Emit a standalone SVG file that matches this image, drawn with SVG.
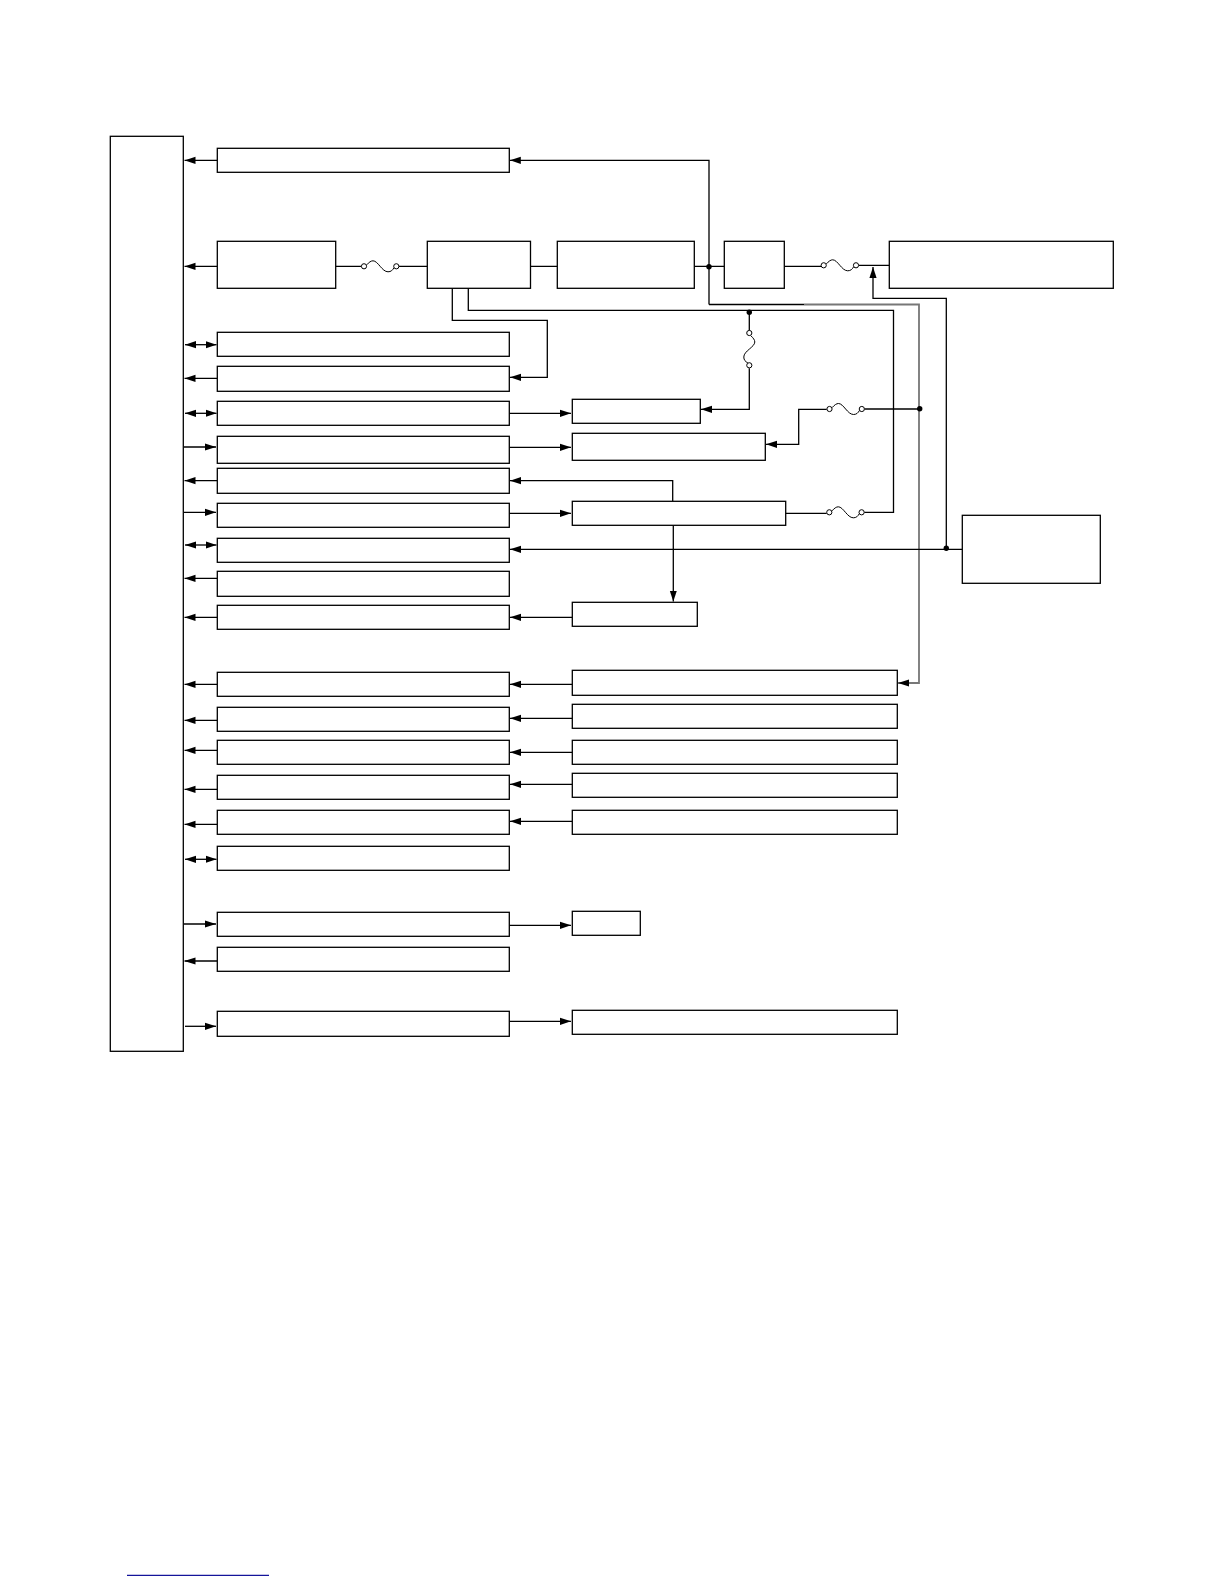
<svg xmlns="http://www.w3.org/2000/svg" width="1224" height="1584" viewBox="0 0 1224 1584">
<style>
rect.n{fill:#fff;stroke:#000;stroke-width:1.3}
.c path{fill:none;stroke:#000;stroke-width:1.3}
.c path.g{stroke:#777;stroke-width:1.8}
.c path.a{marker-end:url(#ah)}
.c path.d{marker-start:url(#ah);marker-end:url(#ah)}
.fw{fill:none;stroke:#000;stroke-width:1}
.fc{fill:#fff;stroke:#000;stroke-width:1}
.dot{fill:#000;stroke:none}
</style>
<defs>
<marker id="ah" markerUnits="userSpaceOnUse" markerWidth="11" markerHeight="8" refX="11" refY="4" orient="auto-start-reverse"><path d="M0,0.4 L11,4 L0,7.6 Z" fill="#000"/></marker>
<g id="fuse"><path class="fw" d="M2.6,-1.4 C5,-4 7,-5.5 9,-5.5 C14,-5.5 18,5.5 24,5.5 C27,5.5 28.5,4 30,1.4"/><circle class="fc" cx="0" cy="0" r="2.6"/><circle class="fc" cx="32.3" cy="0" r="2.6"/></g>
</defs>
<rect width="1224" height="1584" fill="#fff"/>
<g id="connectors" class="c">
<path class="a" d="M217.3,160.3H184.5"/>
<path class="a" d="M217.3,266.3H184.5"/>
<path class="d" d="M185,344.7H216.5"/>
<path class="a" d="M217.3,378.3H184.5"/>
<path class="d" d="M185,413.3H216.5"/>
<path class="a" d="M183.7,447H216"/>
<path class="a" d="M217.3,480.7H184.5"/>
<path class="a" d="M183.7,512.3H216"/>
<path class="d" d="M185,545H216.5"/>
<path class="a" d="M217.3,578.3H184.5"/>
<path class="a" d="M217.3,617.3H184.5"/>
<path class="a" d="M217.3,684.3H184.5"/>
<path class="a" d="M217.3,720.3H184.5"/>
<path class="a" d="M217.3,750.3H184.5"/>
<path class="a" d="M217.3,789.3H184.5"/>
<path class="a" d="M217.3,824.3H184.5"/>
<path class="d" d="M185,859.3H216.5"/>
<path class="a" d="M183.7,924H216"/>
<path class="a" d="M217.3,961H184.5"/>
<path class="a" d="M185,1026.3H216"/>
<path class="a" d="M509.3,413.3H571"/>
<path class="a" d="M509.3,447.3H571"/>
<path class="a" d="M509.3,513.3H571"/>
<path class="a" d="M572.3,617.3H510"/>
<path class="a" d="M572.3,684.3H510"/>
<path class="a" d="M572.3,718.3H510"/>
<path class="a" d="M572.3,752.3H510"/>
<path class="a" d="M572.3,784.3H510"/>
<path class="a" d="M572.3,821.3H510"/>
<path class="a" d="M509.3,925.3H571"/>
<path class="a" d="M509.3,1021.3H571"/>
<path class="a" d="M709,304.5V160.3H509.8"/>
<path d="M709,304.5H804"/>
<path class="g a" d="M804,304.5H919V683H898"/>
<path d="M335.7,266.3H361.4M398.6,266.3H427.3"/>
<path d="M530.5,266.3H557.3M694.3,266.3H724.3M784.3,266.3H821M859,265.3H889.3"/>
<path d="M468.3,288.3V310.3H893.5V512.3H864.3"/>
<path class="a" d="M452.3,288.3V320.3H547.3V377.3H510"/>
<path d="M749.3,310.3V330.4"/>
<path class="a" d="M749.3,368.3V409.3H701"/>
<path d="M919.5,409H864.6"/>
<path class="a" d="M826.7,409.3H798.7V444.3H766"/>
<path d="M785.7,513.3H826.7"/>
<path class="a" d="M672.7,501.3V480.7H510"/>
<path class="a" d="M673.3,525.3V601.5"/>
<path class="a" d="M946.3,548.3V298.3H873V267"/>
<path class="a" d="M962.3,549.3H510"/>
<circle class="dot" cx="709" cy="266.7" r="2.7"/>
<circle class="dot" cx="749.3" cy="312.3" r="2.7"/>
<circle class="dot" cx="919.7" cy="408.7" r="2.7"/>
<circle class="dot" cx="946.3" cy="548.3" r="2.7"/>
</g>
<g id="fuse-1"><use href="#fuse" x="364" y="266.3"/></g>
<g id="fuse-2"><use href="#fuse" x="823.7" y="265.3"/></g>
<g id="fuse-3"><use href="#fuse" transform="translate(749.3,333) rotate(90)"/></g>
<g id="fuse-4"><use href="#fuse" x="829.5" y="409"/></g>
<g id="fuse-5"><use href="#fuse" x="829.3" y="512.3"/></g>
<g id="bus"><rect class="n" x="110.3" y="136.3" width="73" height="915"/></g>
<g id="row-1"><rect class="n" x="217.3" y="148.3" width="292" height="24"/></g>
<g id="power-a"><rect class="n" x="217.3" y="241.3" width="118.4" height="47"/></g>
<g id="power-b"><rect class="n" x="427.3" y="241.3" width="103.2" height="47"/></g>
<g id="power-c"><rect class="n" x="557.3" y="241.3" width="137" height="47"/></g>
<g id="power-d"><rect class="n" x="724.3" y="241.3" width="60" height="47"/></g>
<g id="power-e"><rect class="n" x="889.3" y="241.3" width="224" height="47"/></g>
<g id="source"><rect class="n" x="962.3" y="515.3" width="138" height="68"/></g>
<g id="row-3"><rect class="n" x="217.3" y="332.3" width="292" height="24"/></g>
<g id="row-4"><rect class="n" x="217.3" y="366.3" width="292" height="25"/></g>
<g id="row-5"><rect class="n" x="217.3" y="401.3" width="292" height="24"/></g>
<g id="row-6"><rect class="n" x="217.3" y="436.3" width="292" height="27"/></g>
<g id="row-7"><rect class="n" x="217.3" y="468.3" width="292" height="25"/></g>
<g id="row-8"><rect class="n" x="217.3" y="503.3" width="292" height="24"/></g>
<g id="row-9"><rect class="n" x="217.3" y="538.3" width="292" height="24"/></g>
<g id="row-10"><rect class="n" x="217.3" y="571.3" width="292" height="25"/></g>
<g id="row-11"><rect class="n" x="217.3" y="605.3" width="292" height="24"/></g>
<g id="row-12"><rect class="n" x="217.3" y="672.3" width="292" height="24"/></g>
<g id="row-13"><rect class="n" x="217.3" y="707.3" width="292" height="24"/></g>
<g id="row-14"><rect class="n" x="217.3" y="740.3" width="292" height="24"/></g>
<g id="row-15"><rect class="n" x="217.3" y="775.3" width="292" height="24"/></g>
<g id="row-16"><rect class="n" x="217.3" y="810.3" width="292" height="24"/></g>
<g id="row-17"><rect class="n" x="217.3" y="846.3" width="292" height="24"/></g>
<g id="row-18"><rect class="n" x="217.3" y="912.3" width="292" height="24"/></g>
<g id="row-19"><rect class="n" x="217.3" y="947.3" width="292" height="24"/></g>
<g id="row-20"><rect class="n" x="217.3" y="1011.3" width="292" height="25"/></g>
<g id="right-5"><rect class="n" x="572.3" y="399.3" width="128" height="24"/></g>
<g id="right-6"><rect class="n" x="572.3" y="433.3" width="193" height="27"/></g>
<g id="right-8"><rect class="n" x="572.3" y="501.3" width="213.4" height="24"/></g>
<g id="right-11"><rect class="n" x="572.3" y="602.3" width="125" height="24"/></g>
<g id="right-12"><rect class="n" x="572.3" y="670.3" width="325" height="25"/></g>
<g id="right-13"><rect class="n" x="572.3" y="704.3" width="325" height="24"/></g>
<g id="right-14"><rect class="n" x="572.3" y="740.3" width="325" height="24"/></g>
<g id="right-15"><rect class="n" x="572.3" y="773.3" width="325" height="24"/></g>
<g id="right-16"><rect class="n" x="572.3" y="810.3" width="325" height="24"/></g>
<g id="right-18"><rect class="n" x="572.3" y="911.3" width="68" height="24"/></g>
<g id="right-20"><rect class="n" x="572.3" y="1010.3" width="325" height="24"/></g>
<path d="M127,1575.3H269" stroke="#14149a" stroke-width="1.2" fill="none"/>
</svg>
